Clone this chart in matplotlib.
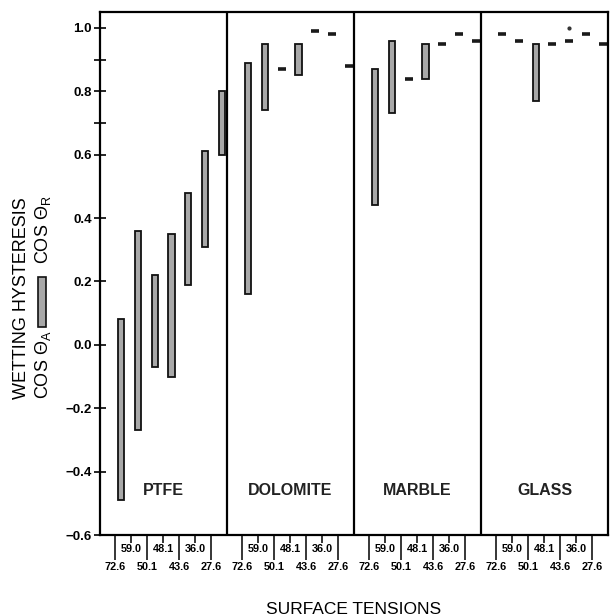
import matplotlib
matplotlib.use("Agg")
import matplotlib.pyplot as plt
from matplotlib.patches import Rectangle

# surface tensions of the probe liquids, same order in every panel
tensions = [72.6, 59.0, 50.1, 48.1, 43.6, 36.0, 27.6]
materials = ["PTFE", "DOLOMITE", "MARBLE", "GLASS"]

# cos(theta_R) (low end) and cos(theta_A) (high end); equal values -> single dash
ptfe_low = [-0.49, -0.27, -0.07, -0.10, 0.19, 0.31, 0.60]
ptfe_high = [0.08, 0.36, 0.22, 0.35, 0.48, 0.61, 0.80]
dolomite_low = [0.16, 0.74, 0.87, 0.85, 0.99, 0.98, 0.88]
dolomite_high = [0.89, 0.95, 0.87, 0.95, 0.99, 0.98, 0.88]
marble_low = [0.44, 0.73, 0.84, 0.84, 0.95, 0.98, 0.96]
marble_high = [0.87, 0.96, 0.84, 0.95, 0.95, 0.98, 0.96]
glass_low = [0.98, 0.96, 0.77, 0.95, 0.96, 0.98, 0.95]
glass_high = [0.98, 0.96, 0.95, 0.95, 0.96, 0.98, 0.95]
# stray extra point above the 43.6 value on glass
glass_extra_tension = [43.6]
glass_extra_value = [1.0]

FONT = "Liberation Sans"
PANEL = 7.0


def bar_x(panel, k):
    return panel * PANEL + 1.15 + 0.93 * k


def tick_x(panel, k):
    return panel * PANEL + 0.85 + 0.88 * k


def draw_panel(ax, panel, low, high):
    for k in range(len(tensions)):
        x = bar_x(panel, k)
        if abs(high[k] - low[k]) < 1e-9:
            ax.plot([x], [low[k]], marker="_", ms=6, mew=2.6, color="#1a1a1a", ls="none")
        else:
            ax.bar(x, high[k] - low[k], bottom=low[k], width=0.34,
                   color="#a8a8a8", edgecolor="#111111", linewidth=1.3)


def main():
    plt.rcParams["font.family"] = [FONT, "DejaVu Sans"]
    plt.rcParams["mathtext.default"] = "regular"

    fig = plt.figure(figsize=(6.14, 6.16), dpi=100)
    ax = fig.add_axes([100 / 614, 1 - 535 / 616, 508 / 614, 523 / 616])

    draw_panel(ax, 0, ptfe_low, ptfe_high)
    draw_panel(ax, 1, dolomite_low, dolomite_high)
    draw_panel(ax, 2, marble_low, marble_high)
    draw_panel(ax, 3, glass_low, glass_high)
    gx = [bar_x(3, tensions.index(t)) for t in glass_extra_tension]
    ax.plot(gx, glass_extra_value, marker="o", ms=2, color="#333333", ls="none")

    for p in range(1, 4):
        ax.axvline(p * PANEL, color="black", lw=1.6)
    for p, name in enumerate(materials):
        ax.text(p * PANEL + PANEL / 2, -0.46, name, ha="center", va="center",
                fontsize=11.5, fontweight="bold", color="#222222")

    ax.set_xlim(0, 4 * PANEL)
    ax.set_ylim(-0.6, 1.05)

    # y axis
    ax.set_yticks([-0.6, -0.4, -0.2, 0.0, 0.2, 0.4, 0.6, 0.8, 1.0])
    ax.set_yticklabels(["\u22120.6", "\u22120.4", "\u22120.2", "0.0", "0.2",
                        "0.4", "0.6", "0.8", "1.0"], fontweight="bold", fontsize=9.5)
    ax.set_yticks([0.7, 0.9], minor=True)
    ax.tick_params(axis="y", which="both", direction="inout", length=8, width=1.2, pad=2)

    # x axis: long ticks with lower labels, short ticks with upper labels
    major_pos, major_lab, minor_pos, minor_lab = [], [], [], []
    for p in range(4):
        for k, t in enumerate(tensions):
            if k % 2 == 0:
                major_pos.append(tick_x(p, k))
                major_lab.append("%.1f" % t)
            else:
                minor_pos.append(tick_x(p, k))
                minor_lab.append("%.1f" % t)
    ax.set_xticks(major_pos, labels=major_lab)
    ax.set_xticks(minor_pos, labels=minor_lab, minor=True)
    for lab in ax.get_xticklabels(which="both"):
        lab.set_fontweight("bold")
        lab.set_fontsize(7.8)
    ax.tick_params(axis="x", which="major", direction="out", length=18, width=1.1, pad=1.5)
    ax.tick_params(axis="x", which="minor", direction="out", length=6, width=1.1, pad=0.5)

    for s in ax.spines.values():
        s.set_linewidth(1.6)

    # labels
    fig.text(354 / 614, 1 - 609 / 616, "SURFACE TENSIONS", ha="center", va="center",
             fontsize=12.5)
    fig.text(22 / 614, 1 - 298 / 616, "WETTING HYSTERESIS", rotation=90,
             ha="center", va="center", fontsize=13)
    fig.text(43 / 614, 1 - 365 / 616, r"COS $\Theta_A$", rotation=90,
             ha="center", va="center", fontsize=13)
    fig.text(43 / 614, 1 - 230 / 616, r"COS $\Theta_R$", rotation=90,
             ha="center", va="center", fontsize=13)
    fig.add_artist(Rectangle((38 / 614, 1 - 327 / 616), 8 / 614, 50 / 616,
                             transform=fig.transFigure, facecolor="#a8a8a8",
                             edgecolor="#111111", linewidth=1.2))

    fig.savefig("out.png", dpi=100)


if __name__ == "__main__":
    main()
